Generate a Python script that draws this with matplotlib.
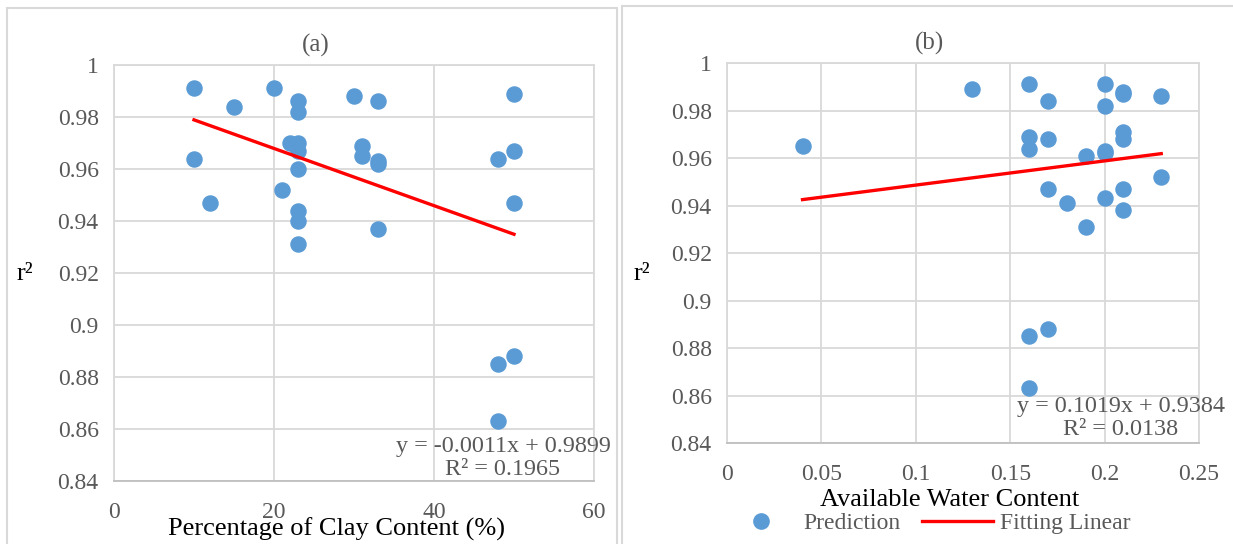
import numpy as np
import matplotlib
matplotlib.use("Agg")
import matplotlib.pyplot as plt
from matplotlib.patches import Rectangle
from matplotlib.lines import Line2D

plt.rcParams['font.family'] = ['Liberation Serif', 'DejaVu Serif']

# panel (a): clay content vs r^2
clay = [10, 15, 20, 23, 23, 30, 33, 50, 22, 23, 23, 31, 31, 33, 33,
        10, 23, 48, 50, 21, 12, 50, 23, 23, 33, 23, 50, 48, 48]
r2_clay = [0.991, 0.984, 0.991, 0.986, 0.982, 0.988, 0.986, 0.989, 0.970, 0.970,
           0.967, 0.969, 0.965, 0.963, 0.962, 0.964, 0.960, 0.964, 0.967, 0.952,
           0.947, 0.947, 0.944, 0.940, 0.937, 0.931, 0.888, 0.885, 0.863]
fit_a = (-0.0011, 0.9899)
eq_a = "y = -0.0011x + 0.9899\nR² = 0.1965"

# panel (b): available water content vs r^2
awc = [0.04, 0.13, 0.16, 0.16, 0.16, 0.16, 0.16, 0.17, 0.17, 0.17, 0.17, 0.18, 0.19,
       0.19, 0.20, 0.20, 0.20, 0.20, 0.20, 0.21, 0.21, 0.21, 0.21, 0.21, 0.21, 0.23, 0.23]
r2_awc = [0.965, 0.989, 0.991, 0.969, 0.964, 0.885, 0.863, 0.984, 0.968, 0.947, 0.888,
          0.941, 0.961, 0.931, 0.991, 0.982, 0.963, 0.962, 0.943, 0.988, 0.987, 0.971,
          0.968, 0.947, 0.938, 0.986, 0.952]
fit_b = (0.1019, 0.9384)
eq_b = "y = 0.1019x + 0.9384\nR² = 0.0138"

y_ticks = [0.84, 0.86, 0.88, 0.9, 0.92, 0.94, 0.96, 0.98, 1]
y_labels = ["0.84", "0.86", "0.88", "0.9", "0.92", "0.94", "0.96", "0.98", "1"]
xa_ticks = [0, 20, 40, 60]
xa_labels = ["0", "20", "40", "60"]
xb_ticks = [0, 0.05, 0.1, 0.15, 0.2, 0.25]
xb_labels = ["0", "0.05", "0.1", "0.15", "0.2", "0.25"]

W, H = 1233, 544
BLUE = "#5b9bd5"
GRAY = "#595959"
GRID = "#d9d9d9"


def px(x, y):
    return x / W, 1 - y / H


fig = plt.figure(figsize=(W / 100, H / 100), dpi=100)

# chart borders
fig.patches.append(Rectangle(px(7, 560), 610 / W, 552 / H, transform=fig.transFigure,
                             fill=False, edgecolor=GRID, lw=1.5))
fig.patches.append(Rectangle(px(622, 560), 620 / W, 554 / H, transform=fig.transFigure,
                             fill=False, edgecolor=GRID, lw=1.5))


def setup(ax, xticks, xlabels, xlim):
    ax.set_xlim(xlim)
    ax.set_ylim(0.84, 1)
    ax.set_xticks(xticks)
    ax.set_xticklabels(xlabels)
    ax.set_yticks(y_ticks)
    ax.set_yticklabels(y_labels)
    ax.grid(True, color=GRID, lw=1.3)
    ax.set_axisbelow(True)
    for s in ax.spines.values():
        s.set_color(GRID)
        s.set_linewidth(1.3)
    ax.spines['bottom'].set_color("#bfbfbf")
    ax.tick_params(length=0, labelsize=17, labelcolor=GRAY)
    ax.tick_params(axis='x', pad=15)
    ax.tick_params(axis='y', pad=11)


# (a)
x0, y0 = px(114, 481)
ax1 = fig.add_axes([x0, y0, 480 / W, 416 / H])
setup(ax1, xa_ticks, xa_labels, (0, 60))
ax1.scatter(clay, r2_clay, s=118, color=BLUE, zorder=3)
xa = np.array([min(clay), max(clay)])
ax1.plot(xa, fit_a[0] * xa + fit_a[1], color="red", lw=2.4, zorder=4)

# (b)
x0, y0 = px(727, 443)
ax2 = fig.add_axes([x0, y0, 472 / W, 380 / H])
setup(ax2, xb_ticks, xb_labels, (0, 0.25))
ax2.scatter(awc, r2_awc, s=118, color=BLUE, zorder=3)
xb = np.array([min(awc), max(awc)])
ax2.plot(xb, fit_b[0] * xb + fit_b[1], color="red", lw=2.4, zorder=4)

# texts
fig.text(*px(316, 45), "(a)", ha='center', va='center', fontsize=18, color=GRAY)
fig.text(*px(929, 43), "(b)", ha='center', va='center', fontsize=18, color=GRAY)
fig.text(*px(25, 274), "r²", ha='center', va='center', fontsize=19, color='black')
fig.text(*px(642, 274), "r²", ha='center', va='center', fontsize=19, color='black')
fig.text(*px(336, 529), "Percentage of Clay Content (%)", ha='center', va='center',
         fontsize=19, color='black')
fig.text(*px(950, 500), "Available Water Content", ha='center', va='center',
         fontsize=19, color='black')
fig.text(*px(503, 458), eq_a, ha='center', va='center', multialignment='center',
         fontsize=17.4, color=GRAY, linespacing=1.1)
fig.text(*px(1121, 418), eq_b, ha='center', va='center', multialignment='center',
         fontsize=17.4, color=GRAY, linespacing=1.1)

handles = [Line2D([], [], ls='none', marker='o', markersize=11, color=BLUE),
           Line2D([], [], color='red', lw=2.4)]
fig.legend(handles, ["Prediction", "Fitting Linear"], loc='center',
           bbox_to_anchor=px(928, 523), ncol=2, frameon=False, fontsize=17,
           labelcolor=GRAY, handlelength=3.0, columnspacing=0.9, handletextpad=0.3,
           borderpad=0, borderaxespad=0)

fig.savefig("out.png", dpi=100)
